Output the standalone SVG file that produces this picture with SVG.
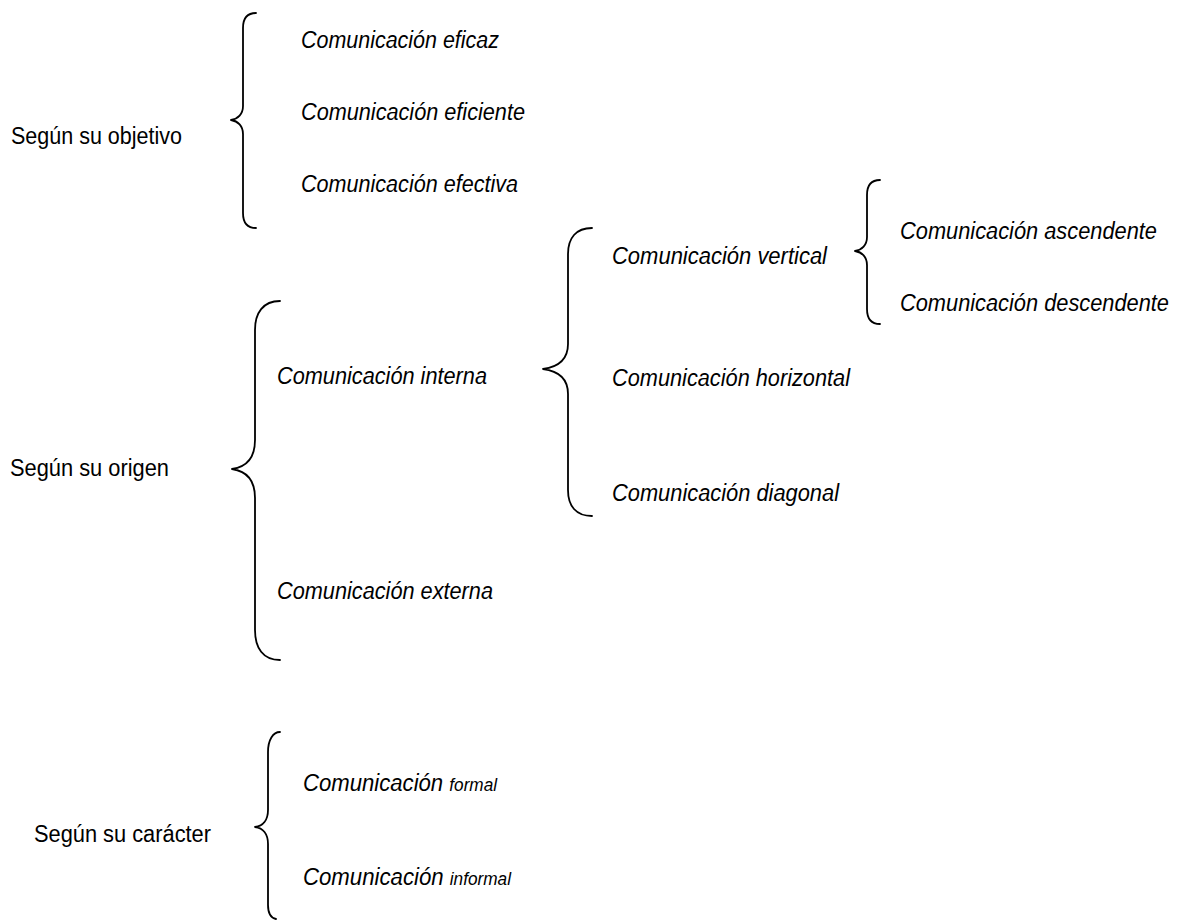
<svg xmlns="http://www.w3.org/2000/svg" width="1186" height="920" viewBox="0 0 1186 920">
  <style>
    .cat { font-family: "Liberation Sans", Arial, sans-serif; font-size: 23px; fill: #000; }
    .item { font-family: "Liberation Sans", Arial, sans-serif; font-size: 24.5px; font-style: italic; fill: #000; }
    .small { font-size: 19px; }
    .brace { fill: none; stroke: #000; stroke-width: 1.8; stroke-linecap: round; stroke-linejoin: round; }
  </style>
  <rect width="1186" height="920" fill="#fff"/>

  <!-- braces -->
  <g id="connectors">
    <path class="brace" d="M256,13 C247,13 243,19 243,28 L243,106 C243,114 238,119 231,120 C238,121 243,126 243,134 L243,213 C243,222 247,228 256,228"/>
    <path class="brace" d="M280,301 C263,301 255,313 255,330 L255,440 C255,458 246,467 232,469 C246,471 255,480 255,498 L255,630 C255,648 263,660 280,660"/>
    <path class="brace" d="M592,228 C576,228 568,238 568,254 L568,344 C568,360 558,367 543,369 C558,371 568,378 568,394 L568,490 C568,506 576,516 592,516"/>
    <path class="brace" d="M880,180 C871,180 867,186 867,195 L867,237 C867,245 862,250 855,251 C862,252 867,257 867,265 L867,309 C867,318 871,324 880,324"/>
    <path class="brace" d="M280,732 C273,732 268,740 268,752 L268,810 C268,820 263,826 255,827 C263,828 268,834 268,844 L268,905 C268,914 271,918 276,919"/>
  </g>

  <!-- by objective -->
  <g id="objetivo">
    <text class="cat" x="11" y="144" textLength="171" lengthAdjust="spacingAndGlyphs">Según su objetivo</text>
  </g>
  <g id="eficaz"><text class="item" x="301" y="48" textLength="198" lengthAdjust="spacingAndGlyphs">Comunicación eficaz</text></g>
  <g id="eficiente"><text class="item" x="301" y="120" textLength="224" lengthAdjust="spacingAndGlyphs">Comunicación eficiente</text></g>
  <g id="efectiva"><text class="item" x="301" y="192" textLength="217" lengthAdjust="spacingAndGlyphs">Comunicación efectiva</text></g>

  <!-- by origin -->
  <g id="origen">
    <text class="cat" x="10" y="476" textLength="159" lengthAdjust="spacingAndGlyphs">Según su origen</text>
  </g>
  <g id="interna"><text class="item" x="277" y="384" textLength="210" lengthAdjust="spacingAndGlyphs">Comunicación interna</text></g>
  <g id="externa"><text class="item" x="277" y="599" textLength="216" lengthAdjust="spacingAndGlyphs">Comunicación externa</text></g>

  <g id="vertical"><text class="item" x="612" y="264" textLength="215" lengthAdjust="spacingAndGlyphs">Comunicación vertical</text></g>
  <g id="horizontal"><text class="item" x="612" y="386" textLength="238" lengthAdjust="spacingAndGlyphs">Comunicación horizontal</text></g>
  <g id="diagonal"><text class="item" x="612" y="501" textLength="227" lengthAdjust="spacingAndGlyphs">Comunicación diagonal</text></g>

  <g id="ascendente"><text class="item" x="900" y="239" textLength="257" lengthAdjust="spacingAndGlyphs">Comunicación ascendente</text></g>
  <g id="descendente"><text class="item" x="900" y="311" textLength="269" lengthAdjust="spacingAndGlyphs">Comunicación descendente</text></g>

  <!-- by character -->
  <g id="caracter">
    <text class="cat" x="34" y="842" textLength="177" lengthAdjust="spacingAndGlyphs">Según su carácter</text>
  </g>
  <g id="formal"><text class="item" x="303" y="791" textLength="194" lengthAdjust="spacingAndGlyphs">Comunicación <tspan class="small">formal</tspan></text></g>
  <g id="informal"><text class="item" x="303" y="885" textLength="208" lengthAdjust="spacingAndGlyphs">Comunicación <tspan class="small">informal</tspan></text></g>
</svg>
